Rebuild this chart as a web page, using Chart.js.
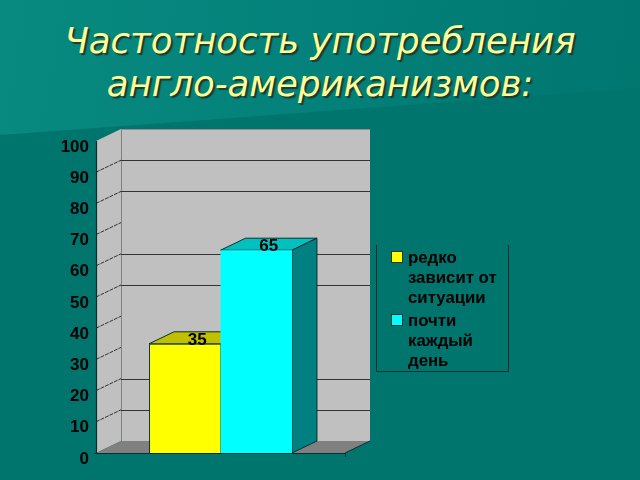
<!DOCTYPE html>
<html>
<head>
<meta charset="utf-8">
<script src="https://cdn.jsdelivr.net/npm/chart.js@4/dist/chart.umd.js"></script>
<style>
  html, body { margin: 0; padding: 0; }
  body { width: 640px; height: 480px; overflow: hidden; position: relative; background: #00756e; }
  #wedge { position: absolute; left: 0; top: 0; width: 640px; height: 140px;
    background: linear-gradient(100deg, #088a80 0%, #03817a 50%, #00766f 100%);
    clip-path: polygon(0 0, 640px 0, 640px 88px, 0 135px); }
  #title { position: absolute; left: 0; top: 19px; width: 640px; text-align: center; color: #ffff99;
    font: italic 35.5px/43px "DejaVu Sans", sans-serif; text-shadow: 2px 2px 1px #1c3a30; }
  canvas { position: absolute; left: 0; top: 0; }
  #legend { position: absolute; left: 376px; top: 245px; width: 131px; height: 126px;
    border: 1px solid #0a2f2c; border-top: none; font: bold 16.8px/20px "Liberation Sans", sans-serif; color: #000; }
  #legend div { position: absolute; left: 31px; width: 100px; }
  #legend i { position: absolute; left: -17px; top: 3px; width: 10px; height: 10px; border: 1px solid #333; }
</style>
</head>
<body>
<div id="wedge"></div>
<div id="title">Частотность употребления<br>англо-американизмов:</div>
<canvas id="chart" width="640" height="480"></canvas>
<div id="legend"></div>
<script>
const categories = [""];
const seriesNames = [["редко", "зависит от", "ситуации"], ["почти", "каждый", "день"]];
const seriesValues = [[35], [65]];
const seriesColors = ["#ffff00", "#00ffff"];
const topColors = ["#c0c000", "#00c0c0"];
const sideColors = ["#808000", "#008080"];
const yTicks = [0, 10, 20, 30, 40, 50, 60, 70, 80, 90, 100];
// back wall lines that actually show in the picture
const backLines = [10, 20, 50, 60, 80, 90];

const DX = 25, DY = -12;

function poly(ctx, pts, fill, stroke) {
  ctx.beginPath();
  pts.forEach((p, i) => i ? ctx.lineTo(p[0], p[1]) : ctx.moveTo(p[0], p[1]));
  ctx.closePath();
  if (fill) { ctx.fillStyle = fill; ctx.fill(); }
  if (stroke) { ctx.strokeStyle = stroke; ctx.lineWidth = 1; ctx.stroke(); }
}

function line(ctx, x1, y1, x2, y2, color, w) {
  ctx.beginPath();
  ctx.moveTo(x1, y1);
  ctx.lineTo(x2, y2);
  ctx.strokeStyle = color;
  ctx.lineWidth = w || 1;
  ctx.stroke();
}

const box3d = {
  id: "box3d",
  // move the axis labels down a bit, they sit below their ticks
  afterLayout(chart) {
    chart.scales.y.getLabelItems().forEach(item => { item.textOffset += 6; });
  },
  beforeDatasetsDraw(chart) {
    const ctx = chart.ctx, a = chart.chartArea, y = chart.scales.y;
    const l = a.left, r = a.right, t = a.top, b = a.bottom;
    ctx.save();
    // walls and floor
    poly(ctx, [[l + DX, t + DY], [r + DX, t + DY], [r + DX, b + DY], [l + DX, b + DY]], "#c0c0c0");
    poly(ctx, [[l, t], [l + DX, t + DY], [l + DX, b + DY], [l, b]], "#c0c0c0");
    poly(ctx, [[l, b], [r, b], [r + DX, b + DY], [l + DX, b + DY]], "#808080");
    line(ctx, l + DX + .5, t + DY, l + DX + .5, b + DY, "#808080");
    line(ctx, l + DX, t + DY + .5, r + DX, t + DY + .5, "#909090");
    // grid
    yTicks.slice(1, -1).forEach(v => {
      const py = y.getPixelForValue(v);
      ctx.setLineDash([4, 1]);
      line(ctx, l, py, l + DX, py + DY, "#333333");
      ctx.setLineDash([]);
    });
    backLines.forEach(v => {
      const py = Math.round(y.getPixelForValue(v) + DY) + .5;
      line(ctx, l + DX, py, r + DX, py, "#333333", 1.2);
    });
    // bar tops and sides
    chart.data.datasets.forEach((ds, i) => {
      const bar = chart.getDatasetMeta(i).data[0];
      const x0 = bar.x - bar.width / 2, x1 = bar.x + bar.width / 2;
      poly(ctx, [[x0, bar.y], [x0 + DX, bar.y + DY], [x1 + DX, bar.y + DY], [x1, bar.y]], topColors[i], "#0a2f2c");
      poly(ctx, [[x1, bar.y], [x1 + DX, bar.y + DY], [x1 + DX, bar.base + DY], [x1, bar.base]], sideColors[i], "#0a2f2c");
    });
    ctx.restore();
  },
  afterDatasetsDraw(chart) {
    const ctx = chart.ctx, a = chart.chartArea;
    ctx.save();
    // axis lines
    line(ctx, a.left + .5, a.top, a.left + .5, a.bottom + 1, "#0a2f2c", 1.2);
    line(ctx, a.left - 2, a.bottom + .5, a.right, a.bottom + .5, "#0a2f2c", 1.2);
    line(ctx, a.right + .5, a.bottom, a.right + .5, a.bottom + 4, "#0a2f2c");
    line(ctx, a.right, a.bottom, a.right + DX, a.bottom + DY, "#0a2f2c");
    // value labels on the top faces
    ctx.font = "bold 17px 'Liberation Sans', sans-serif";
    ctx.fillStyle = "#000";
    ctx.textAlign = "center";
    ctx.textBaseline = "middle";
    chart.data.datasets.forEach((ds, i) => {
      const bar = chart.getDatasetMeta(i).data[0];
      ctx.fillText(String(ds.data[0]), bar.x + DX / 2, bar.y - 3.5);
    });
    ctx.restore();
  }
};

new Chart(document.getElementById("chart"), {
  type: "bar",
  data: {
    labels: categories,
    datasets: seriesNames.map((name, i) => ({
      label: name.join(" "),
      data: seriesValues[i],
      backgroundColor: seriesColors[i],
      borderColor: i === 0 ? "#0a2f2c" : seriesColors[i],
      borderWidth: i === 0 ? { left: 1, top: 1 } : 0
    }))
  },
  options: {
    responsive: false,
    animation: false,
    categoryPercentage: 0.574,
    barPercentage: 1,
    layout: { padding: { left: 56, right: 295, top: 141, bottom: 27 } },
    plugins: { legend: { display: false }, title: { display: false }, tooltip: { enabled: false } },
    scales: {
      x: { display: false },
      y: {
        min: 0,
        max: 100,
        afterFit: s => { s.width = 40; },
        afterBuildTicks: s => { s.ticks = yTicks.map(v => ({ value: v })); },
        grid: { display: false, tickLength: 7 },
        border: { display: false },
        ticks: { color: "#000", padding: 0, font: { family: "'Liberation Sans', sans-serif", size: 17, weight: "bold" } }
      }
    }
  },
  plugins: [box3d]
});

// legend, the text wraps by hand like in the slide
const legend = document.getElementById("legend");
const legendTops = [3, 66];
seriesNames.forEach((name, i) => {
  const item = document.createElement("div");
  item.style.top = legendTops[i] + "px";
  item.innerHTML = name.join("<br>") + `<i style="background:${seriesColors[i]}"></i>`;
  legend.appendChild(item);
});
</script>
</body>
</html>
